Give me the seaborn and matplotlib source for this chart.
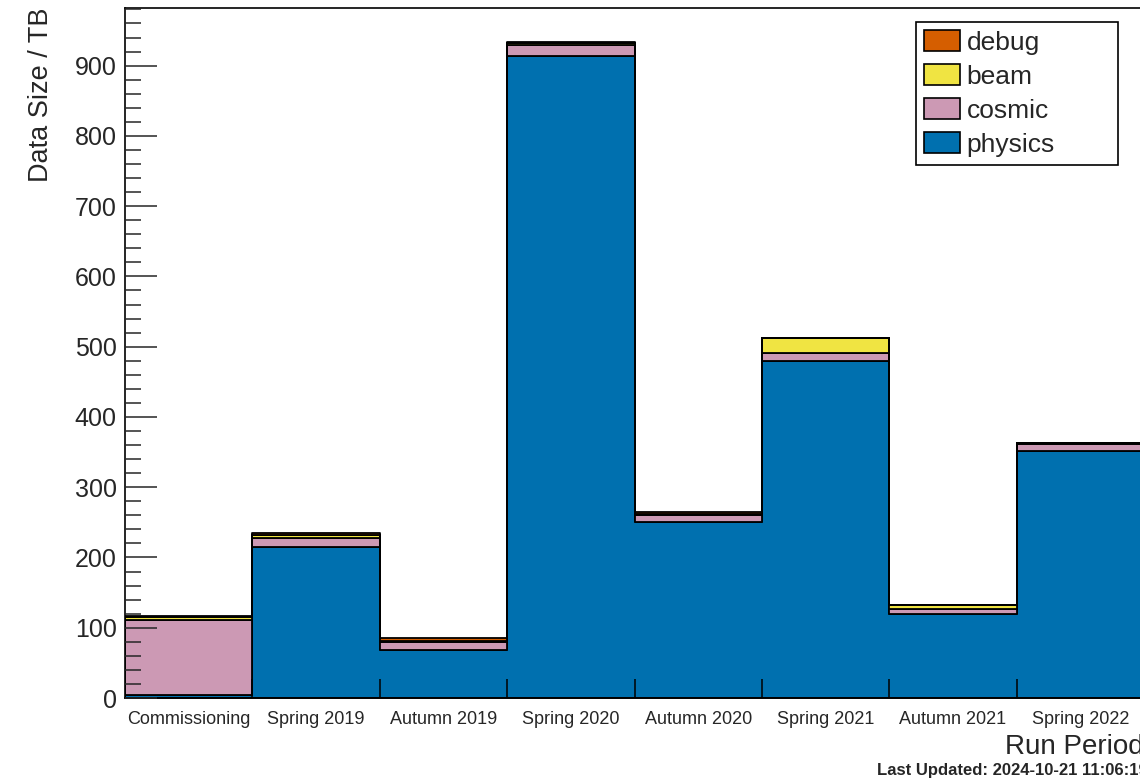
import pandas as pd
import matplotlib
matplotlib.use("Agg")
import matplotlib.pyplot as plt
from matplotlib.patches import Patch
from matplotlib.ticker import MultipleLocator, FixedLocator, NullFormatter, FixedFormatter
import seaborn as sns

# data (TB per run period)
periods = ['Commissioning', 'Spring 2019', 'Autumn 2019', 'Spring 2020',
           'Autumn 2020', 'Spring 2021', 'Autumn 2021', 'Spring 2022']
physics = [4, 215, 68, 913, 251, 479, 120, 351]
cosmic = [107, 13, 11, 16, 10, 12, 7, 11]
beam = [4, 4, 2, 3.5, 1, 21, 5, 0.5]
debug = [2, 3, 4, 0.5, 3, 1, 1, 0.5]

channels = ['debug', 'beam', 'cosmic', 'physics']
colors = {'debug': '#D55E00', 'beam': '#F0E442', 'cosmic': '#CC99B4', 'physics': '#0070AF'}

rows = []
for name, vals in zip(['physics', 'cosmic', 'beam', 'debug'], [physics, cosmic, beam, debug]):
    for i, v in enumerate(vals):
        rows.append({'period': i, 'channel': name, 'size': v})
df = pd.DataFrame(rows)

sns.set_style('ticks')
plt.rcParams['font.family'] = ['Liberation Sans', 'DejaVu Sans']

fig = plt.figure(figsize=(11.4, 7.79), dpi=100)
ax = fig.add_axes([125 / 1140, 81 / 779, 1019 / 1140, 690 / 779])

# step outlines like a ROOT THStack
sns.histplot(data=df, x='period', weights='size', hue='channel', hue_order=channels,
             multiple='stack', discrete=True, element='step', palette=colors, alpha=1,
             edgecolor='black', linewidth=1.3, legend=False, ax=ax)

ax.set_xlim(-0.5, len(periods) - 0.5)
ax.set_ylim(0, 982)
ax.set_axisbelow(False)  # ticks drawn over the filled stack

# ticks inside, bin-edge ticks on x, labels at bin centres
ax.xaxis.set_major_locator(FixedLocator([i + 0.5 for i in range(len(periods))]))
ax.xaxis.set_major_formatter(NullFormatter())
ax.xaxis.set_minor_locator(FixedLocator(list(range(len(periods)))))
ax.xaxis.set_minor_formatter(FixedFormatter(periods))
ax.tick_params(axis='x', which='major', direction='in', length=14, width=1.1, colors='black')
ax.tick_params(axis='x', which='minor', length=0, pad=9, labelsize=13)

ax.yaxis.set_major_locator(MultipleLocator(100))
ax.yaxis.set_minor_locator(MultipleLocator(20))
ax.tick_params(axis='y', which='major', direction='in', length=23, width=1.1, labelsize=18, pad=6)
ax.tick_params(axis='y', which='minor', direction='in', length=11.5, width=1.1)

for side in ['left', 'top', 'bottom']:
    ax.spines[side].set_visible(True)
    ax.spines[side].set_color('black')
    ax.spines[side].set_linewidth(1.2)
ax.spines['right'].set_visible(False)

ax.set_ylabel('Data Size / TB', fontsize=19.5, loc='top')
ax.yaxis.set_label_coords(-0.07, 1.0)
ax.set_xlabel('Run Period', fontsize=20, loc='right')
ax.xaxis.set_label_coords(1.0, -0.052)

handles = [Patch(facecolor=colors[c], edgecolor='black', linewidth=1.2, label=c) for c in channels]
leg = ax.legend(handles=handles, loc='upper left', mode='expand',
                bbox_to_anchor=(0.776, 0.7754, 0.1985, 0.2043), borderaxespad=0,
                fontsize=19, handlelength=1.35, handleheight=0.85, handletextpad=0.25,
                labelspacing=0.35, borderpad=0.32, fancybox=False, framealpha=1)
leg.get_frame().set_edgecolor('black')
leg.get_frame().set_linewidth(1.2)

fig.text(877 / 1140, 8 / 779, 'Last Updated: 2024-10-21 11:06:19', fontsize=12,
         fontweight='bold', ha='left', va='center')

fig.savefig('out.png', dpi=100)
